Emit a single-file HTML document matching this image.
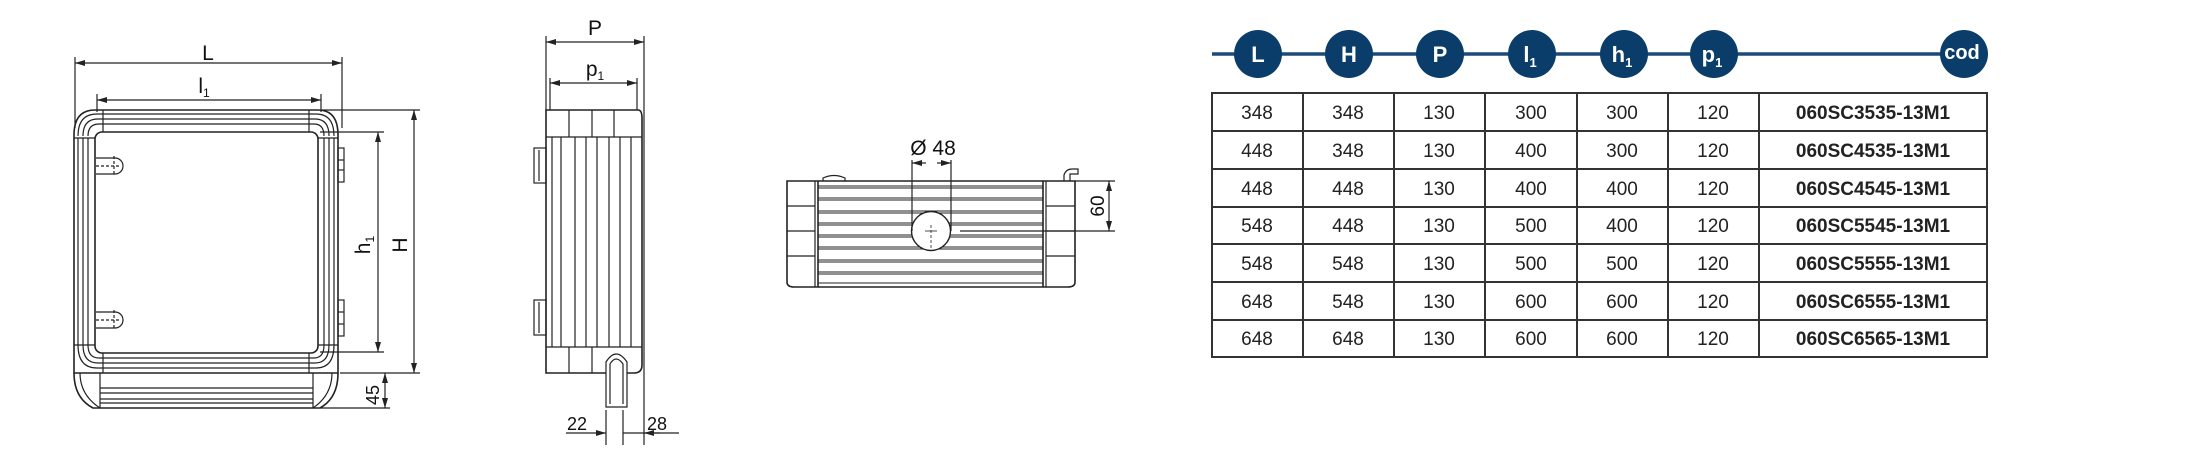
<!DOCTYPE html>
<html><head><meta charset="utf-8"><style>
html,body{margin:0;padding:0;background:#fff;}
svg{display:block;}
text{font-family:"Liberation Sans",sans-serif;}
</style></head><body>
<svg width="2190" height="451" viewBox="0 0 2190 451" xmlns="http://www.w3.org/2000/svg">
<defs>
<marker id="a" viewBox="0 0 10 6" refX="10" refY="3" markerWidth="10" markerHeight="6" orient="auto-start-reverse" markerUnits="userSpaceOnUse"><path d="M0,0 L10,3 L0,6 z" fill="#222"/></marker>
</defs>
<g stroke="#222" fill="none" stroke-width="1.2">
<!-- FRONT VIEW -->
<line x1="75" y1="63" x2="342" y2="63" marker-start="url(#a)" marker-end="url(#a)"/>
<line x1="75" y1="57" x2="75" y2="128"/><line x1="342" y1="57" x2="342" y2="128"/>
<line x1="97" y1="100" x2="321" y2="100" marker-start="url(#a)" marker-end="url(#a)"/>
<line x1="97" y1="94" x2="97" y2="112"/><line x1="321" y1="94" x2="321" y2="112"/>
<!-- outer -->
<path d="M95,110 L318,110 Q338,110 338,135 L338,373 L74,373 L74,135 Q74,110 95,110 Z" stroke-width="1.6"/>
<path d="M97,114 L316,114 Q334,114 334,136 M78,136 Q78,114 97,114"/>
<path d="M98,119 L315,119 Q329,119 329,136 M83,136 Q83,119 98,119"/>
<path d="M99,124 L314,124 Q324,124 324,136 M88,136 Q88,124 99,124"/>
<line x1="74" y1="138" x2="338" y2="138" stroke="none"/>
<line x1="74" y1="138" x2="95" y2="138"/><line x1="318" y1="138" x2="338" y2="138"/>
<line x1="78" y1="138" x2="78" y2="345"/><line x1="83" y1="138" x2="83" y2="345"/><line x1="88" y1="138" x2="88" y2="345"/>
<line x1="334" y1="138" x2="334" y2="345"/><line x1="329" y1="138" x2="329" y2="345"/><line x1="324" y1="138" x2="324" y2="345"/>
<line x1="74" y1="345" x2="95" y2="345"/><line x1="318" y1="345" x2="338" y2="345"/>
<line x1="103" y1="110" x2="103" y2="132"/><line x1="309" y1="110" x2="309" y2="132"/>
<rect x="95" y="132" width="223" height="221" rx="7" stroke-width="1.6"/>
<path d="M78,345 Q78,368 97,368 L316,368 Q334,368 334,345"/>
<path d="M83,345 Q83,363 98,363 L315,363 Q329,363 329,345"/>
<path d="M88,345 Q88,358 99,358 L314,358 Q324,358 324,345"/>
<line x1="103" y1="353" x2="103" y2="373"/><line x1="309" y1="353" x2="309" y2="373"/>
<!-- base -->
<path d="M74,373 Q74,398 93,408 L320,408 Q338,398 338,373" stroke-width="1.6"/>
<path d="M80,373 Q80,395 100,408 M332,373 Q332,395 313,408"/>
<line x1="100" y1="373" x2="100" y2="408"/><line x1="313" y1="373" x2="313" y2="408"/>
<line x1="100" y1="388" x2="313" y2="388"/><line x1="100" y1="393" x2="313" y2="393"/><line x1="100" y1="399" x2="313" y2="399"/><line x1="100" y1="403" x2="313" y2="403"/>
<!-- hinges -->
<path d="M96,158 L115,158 A8,8 0 0 1 115,174 L96,174"/>
<line x1="96" y1="166" x2="120" y2="166" stroke-dasharray="3,2"/><line x1="114" y1="156" x2="114" y2="176" stroke-dasharray="3,2"/>
<path d="M96,312 L115,312 A8,8 0 0 1 115,328 L96,328"/>
<line x1="96" y1="320" x2="120" y2="320" stroke-dasharray="3,2"/><line x1="114" y1="310" x2="114" y2="330" stroke-dasharray="3,2"/>
<!-- latches -->
<rect x="338" y="148" width="6" height="34"/><line x1="338" y1="160" x2="344" y2="160"/><line x1="338" y1="170" x2="344" y2="170"/>
<rect x="338" y="300" width="6" height="36"/><line x1="338" y1="312" x2="344" y2="312"/><line x1="338" y1="324" x2="344" y2="324"/>
<!-- H/h1/45 dims -->
<line x1="322" y1="110" x2="420" y2="110"/><line x1="340" y1="373" x2="420" y2="373"/>
<line x1="414" y1="110" x2="414" y2="373" marker-start="url(#a)" marker-end="url(#a)"/>
<line x1="320" y1="132" x2="384" y2="132"/><line x1="320" y1="352" x2="384" y2="352"/>
<line x1="378" y1="132" x2="378" y2="352" marker-start="url(#a)" marker-end="url(#a)"/>
<line x1="320" y1="408" x2="390" y2="408"/>
<line x1="385" y1="373" x2="385" y2="408" marker-start="url(#a)" marker-end="url(#a)"/>
<!-- SIDE VIEW -->
<line x1="546" y1="42" x2="644" y2="42" marker-start="url(#a)" marker-end="url(#a)"/>
<line x1="546" y1="36" x2="546" y2="110"/><line x1="644" y1="36" x2="644" y2="445"/>
<line x1="550" y1="83" x2="637" y2="83" marker-start="url(#a)" marker-end="url(#a)"/>
<line x1="550" y1="78" x2="550" y2="110"/><line x1="637" y1="78" x2="637" y2="110"/>
<path d="M546,110 L638,110 Q642,110 642,118 L642,365 Q642,373 634,373 L546,373 Z" stroke-width="1.6"/>
<line x1="546" y1="137" x2="642" y2="137"/><line x1="546" y1="347" x2="642" y2="347"/>
<line x1="569" y1="110" x2="569" y2="137"/><line x1="592" y1="110" x2="592" y2="137"/><line x1="614" y1="110" x2="614" y2="137"/>
<line x1="569" y1="347" x2="569" y2="373"/><line x1="592" y1="347" x2="592" y2="373"/>
<line x1="552" y1="137" x2="552" y2="347"/><line x1="561" y1="137" x2="561" y2="347"/><line x1="575" y1="137" x2="575" y2="347"/><line x1="586" y1="137" x2="586" y2="347"/><line x1="597" y1="137" x2="597" y2="347"/><line x1="609" y1="137" x2="609" y2="347"/><line x1="620" y1="137" x2="620" y2="347"/><line x1="631" y1="137" x2="631" y2="347"/>
<rect x="534" y="148" width="12" height="35"/><line x1="539" y1="150" x2="539" y2="181"/>
<rect x="534" y="300" width="12" height="35"/><line x1="539" y1="302" x2="539" y2="333"/>
<path d="M606,407 L606,362 Q616,346 627,362 L627,407 Z" fill="#fff"/>
<path d="M610,404 L610,364 Q616,354 623,364 L623,404"/>
<line x1="606" y1="410" x2="606" y2="445"/><line x1="623" y1="410" x2="623" y2="445"/>
<line x1="566" y1="433" x2="606" y2="433" marker-end="url(#a)"/>
<line x1="623" y1="433" x2="679" y2="433"/>
<line x1="660" y1="433" x2="644" y2="433" marker-end="url(#a)"/>
<!-- BOTTOM VIEW -->
<path d="M787,181 L1075,181 L1075,282 Q1075,287 1068,287 L794,287 Q787,287 787,282 Z" stroke-width="1.6"/>
<line x1="815" y1="181" x2="815" y2="287"/><line x1="818" y1="181" x2="818" y2="287" stroke-width="1.6"/>
<line x1="1043" y1="181" x2="1043" y2="287" stroke-width="1.6"/><line x1="1046" y1="181" x2="1046" y2="287"/>
<line x1="787" y1="206" x2="815" y2="206"/><line x1="787" y1="231" x2="815" y2="231"/><line x1="787" y1="256" x2="815" y2="256"/>
<line x1="1046" y1="206" x2="1075" y2="206"/><line x1="1046" y1="231" x2="1075" y2="231"/><line x1="1046" y1="256" x2="1075" y2="256"/>
<g stroke-width="1">
<line x1="818" y1="186" x2="1043" y2="186"/><line x1="818" y1="188" x2="1043" y2="188"/>
<line x1="818" y1="198" x2="1043" y2="198"/><line x1="818" y1="200" x2="1043" y2="200"/>
<line x1="818" y1="211" x2="1043" y2="211"/><line x1="818" y1="213" x2="1043" y2="213"/>
<line x1="818" y1="223" x2="1043" y2="223"/><line x1="818" y1="225" x2="1043" y2="225"/>
<line x1="818" y1="235" x2="1043" y2="235"/><line x1="818" y1="237" x2="1043" y2="237"/>
<line x1="818" y1="247" x2="1043" y2="247"/><line x1="818" y1="249" x2="1043" y2="249"/>
<line x1="818" y1="260" x2="1043" y2="260"/><line x1="818" y1="262" x2="1043" y2="262"/>
<line x1="818" y1="272" x2="1043" y2="272"/><line x1="818" y1="274" x2="1043" y2="274"/>
<line x1="818" y1="283" x2="1043" y2="283"/>
</g>
<circle cx="931" cy="231" r="19.5" fill="#fff" stroke-width="1.4"/>
<line x1="925" y1="231" x2="937" y2="231" stroke-width="0.8"/><line x1="931" y1="225" x2="931" y2="250" stroke-dasharray="3,2" stroke-width="0.8"/>
<line x1="912" y1="160" x2="912" y2="231"/><line x1="951" y1="160" x2="951" y2="231"/>
<line x1="912" y1="163" x2="926" y2="163" marker-start="url(#a)"/><line x1="937" y1="163" x2="951" y2="163" marker-end="url(#a)"/>
<path d="M823,181 L823,178 Q834,173 845,178 L845,181"/>
<path d="M1064,181 L1064,175 Q1066,169 1072,169 L1078,169 L1078,174 L1070,174 L1070,181"/>
<line x1="1075" y1="181" x2="1115" y2="181"/><line x1="960" y1="231" x2="1115" y2="231"/>
<line x1="1109" y1="181" x2="1109" y2="231" marker-start="url(#a)" marker-end="url(#a)"/>
</g>
<g fill="#111" font-size="21">
<text x="208" y="60" text-anchor="middle">L</text>
<text x="204" y="93" text-anchor="middle">l<tspan font-size="12" dy="4">1</tspan></text>
<text transform="translate(407,245) rotate(-90)" text-anchor="middle">H</text>
<text transform="translate(370,245) rotate(-90)" text-anchor="middle">h<tspan font-size="12" dy="4">1</tspan></text>
<text transform="translate(379,395) rotate(-90)" text-anchor="middle" font-size="18">45</text>
<text x="595" y="35" text-anchor="middle">P</text>
<text x="595" y="76" text-anchor="middle">p<tspan font-size="12" dy="4">1</tspan></text>
<text x="577" y="430" text-anchor="middle" font-size="18">22</text>
<text x="657" y="430" text-anchor="middle" font-size="18">28</text>
<text x="933" y="155" text-anchor="middle" font-size="21">Ø 48</text>
<text transform="translate(1104,206) rotate(-90)" text-anchor="middle" font-size="19">60</text>
</g>
<!-- TABLE HEADER -->
<line x1="1212" y1="54" x2="1964" y2="54" stroke="#1d4a78" stroke-width="3.5"/>
<g fill="#0b3d6b">
<circle cx="1258" cy="54" r="24"/><circle cx="1349" cy="54" r="24"/><circle cx="1440" cy="54" r="24"/><circle cx="1532" cy="54" r="24"/><circle cx="1624" cy="54" r="24"/><circle cx="1714" cy="54" r="24"/><circle cx="1964" cy="54" r="24"/>
</g>
<g fill="#fff" font-size="22" font-weight="bold" text-anchor="middle">
<text x="1258" y="62">L</text><text x="1349" y="62">H</text><text x="1440" y="62">P</text>
<text x="1530" y="62">l<tspan font-size="13" dy="5">1</tspan></text>
<text x="1622" y="62">h<tspan font-size="13" dy="5">1</tspan></text>
<text x="1712" y="62">p<tspan font-size="13" dy="5">1</tspan></text>
<text x="1962" y="59" font-size="20">cod</text>
</g>
<!-- TABLE -->
<g stroke="#333" stroke-width="2" fill="none">
<rect x="1212" y="93" width="775" height="264"/>
<line x1="1212" y1="131" x2="1987" y2="131"/><line x1="1212" y1="169" x2="1987" y2="169"/><line x1="1212" y1="207" x2="1987" y2="207"/><line x1="1212" y1="244" x2="1987" y2="244"/><line x1="1212" y1="282" x2="1987" y2="282"/><line x1="1212" y1="320" x2="1987" y2="320"/>
<line x1="1303" y1="93" x2="1303" y2="357"/><line x1="1394" y1="93" x2="1394" y2="357"/><line x1="1485" y1="93" x2="1485" y2="357"/><line x1="1577" y1="93" x2="1577" y2="357"/><line x1="1668" y1="93" x2="1668" y2="357"/><line x1="1759" y1="93" x2="1759" y2="357"/>
</g>
<g fill="#222" font-size="19" text-anchor="middle">
<g transform="translate(0,119)"><text x="1257">348</text><text x="1348">348</text><text x="1439">130</text><text x="1531">300</text><text x="1622">300</text><text x="1713">120</text><text x="1873" font-weight="bold">060SC3535-13M1</text></g>
<g transform="translate(0,157)"><text x="1257">448</text><text x="1348">348</text><text x="1439">130</text><text x="1531">400</text><text x="1622">300</text><text x="1713">120</text><text x="1873" font-weight="bold">060SC4535-13M1</text></g>
<g transform="translate(0,195)"><text x="1257">448</text><text x="1348">448</text><text x="1439">130</text><text x="1531">400</text><text x="1622">400</text><text x="1713">120</text><text x="1873" font-weight="bold">060SC4545-13M1</text></g>
<g transform="translate(0,232)"><text x="1257">548</text><text x="1348">448</text><text x="1439">130</text><text x="1531">500</text><text x="1622">400</text><text x="1713">120</text><text x="1873" font-weight="bold">060SC5545-13M1</text></g>
<g transform="translate(0,270)"><text x="1257">548</text><text x="1348">548</text><text x="1439">130</text><text x="1531">500</text><text x="1622">500</text><text x="1713">120</text><text x="1873" font-weight="bold">060SC5555-13M1</text></g>
<g transform="translate(0,308)"><text x="1257">648</text><text x="1348">548</text><text x="1439">130</text><text x="1531">600</text><text x="1622">600</text><text x="1713">120</text><text x="1873" font-weight="bold">060SC6555-13M1</text></g>
<g transform="translate(0,345)"><text x="1257">648</text><text x="1348">648</text><text x="1439">130</text><text x="1531">600</text><text x="1622">600</text><text x="1713">120</text><text x="1873" font-weight="bold">060SC6565-13M1</text></g>
</g>
</svg>
</body></html>
